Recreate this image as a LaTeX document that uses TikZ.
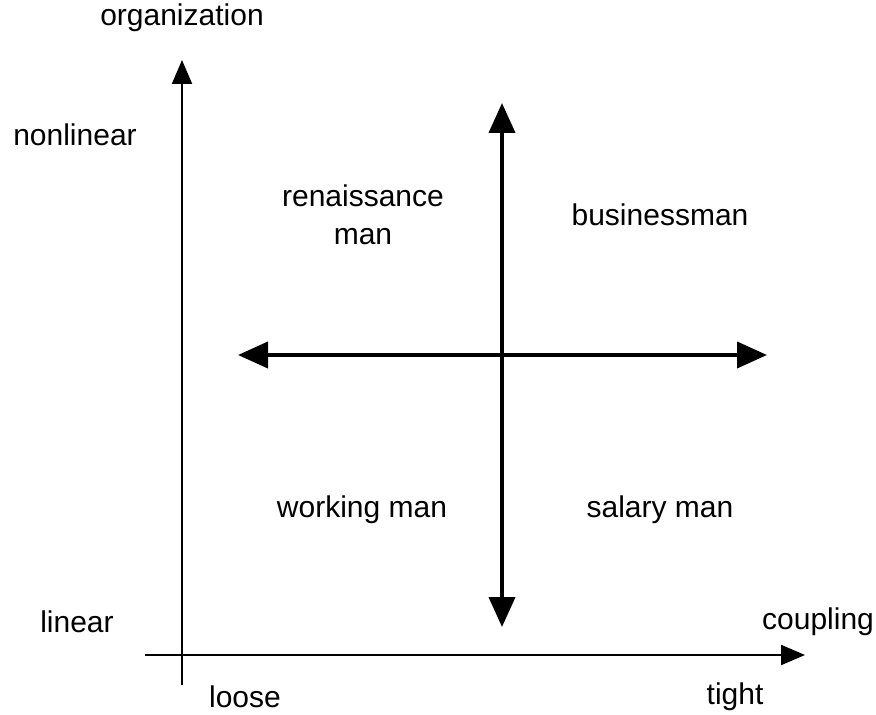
\documentclass[tikz,border=0pt]{standalone}
\usepackage{fontspec}
\setmainfont{Liberation Sans}
\usetikzlibrary{arrows.meta}

\begin{document}
\begin{tikzpicture}[x=0.5pt,y=-0.5pt]
    \tikzstyle{axis}=[line width=1pt, -{Triangle[length=12pt,width=10pt]}]
    \tikzstyle{quad}=[line width=2pt, {Triangle[length=15pt,width=13pt]}-{Triangle[length=15pt,width=13pt]}]
    \tikzstyle{lbl}=[font=\fontsize{15}{19}\selectfont, align=center]
    \useasboundingbox (0,0) rectangle (876,715);
    % axes
    \coordinate (ybot) at (182,685);
    \coordinate (ytop) at (182,60);
    \coordinate (xleft) at (145,655);
    \coordinate (xright) at (805,655);
    \draw[axis] (ybot) -- (ytop);
    \draw[axis] (xleft) -- (xright);
    % quadrant arrows
    \coordinate (top) at (502,103);
    \coordinate (bot) at (502,627);
    \coordinate (left) at (238,355);
    \coordinate (right) at (767,355);
    \draw[quad] (bot) -- (top);
    \draw[quad] (left) -- (right);
    % labels
    \node[lbl] (org) at (182,18) {organization};
    \node[lbl] (nonlin) at (75,135) {nonlinear};
    \node[lbl] (lin) at (77,622) {linear};
    \node[lbl] (coup) at (818,622) {coupling};
    \node[lbl] (loose) at (245,697) {loose};
    \node[lbl] (tight) at (735,697) {tight};
    \node[lbl] (ren) at (363,215) {renaissance\\man};
    \node[lbl] (bus) at (660,215) {businessman};
    \node[lbl] (work) at (362,510) {working man};
    \node[lbl] (sal) at (660,510) {salary man};
\end{tikzpicture}
\end{document}
